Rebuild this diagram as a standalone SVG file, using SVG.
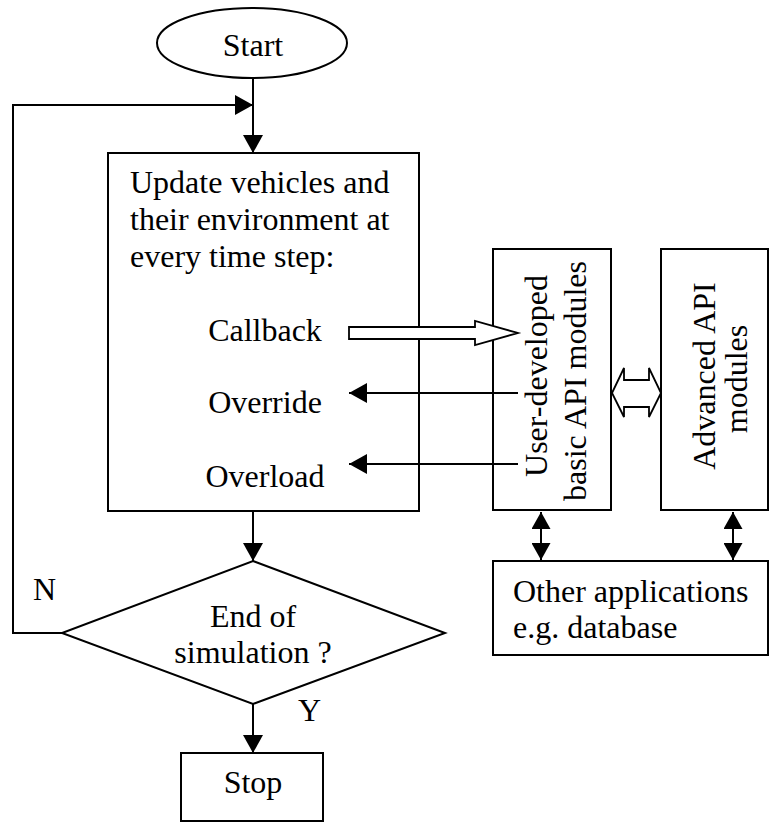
<svg xmlns="http://www.w3.org/2000/svg" width="770" height="823" viewBox="0 0 770 823">
<style>
.s{fill:#fff;stroke:#000;stroke-width:2}
.c{fill:none;stroke:#000;stroke-width:2}
.h{fill:#fff;stroke:#000;stroke-width:1.8}
text{font-family:"Liberation Serif","Times New Roman",serif;font-size:32px;fill:#000}
.m{text-anchor:middle}
</style>
<defs>
<marker id="ah" viewBox="0 0 18 20" refX="18" refY="10" markerWidth="18" markerHeight="20" markerUnits="userSpaceOnUse" orient="auto-start-reverse">
<path d="M0,0 L18,10 L0,20 z" fill="#000"/>
</marker>
<marker id="ahs" viewBox="0 0 17 19" refX="17" refY="9.5" markerWidth="17" markerHeight="19" markerUnits="userSpaceOnUse" orient="auto-start-reverse">
<path d="M0,0 L17,9.5 L0,19 z" fill="#000"/>
</marker>
</defs>
<g id="start">
<ellipse class="s" cx="252" cy="43" rx="95" ry="35"/>
<text class="m" x="253" y="56">Start</text>
</g>
<g id="update">
<rect class="s" x="108" y="153" width="311" height="358"/>
<text x="130" y="193">Update vehicles and</text>
<text x="130" y="230">their environment at</text>
<text x="130" y="267">every time step:</text>
<text class="m" x="265" y="341">Callback</text>
<text class="m" x="265" y="413">Override</text>
<text class="m" x="265" y="487">Overload</text>
</g>
<g id="decision">
<polygon class="s" points="253,561 445,633 253,704 62,633"/>
<text class="m" x="253" y="627">End of</text>
<text class="m" x="253" y="663">simulation ?</text>
</g>
<g id="stop">
<rect class="s" x="181" y="753" width="142" height="68"/>
<text class="m" x="253" y="793">Stop</text>
</g>
<g id="basic">
<rect class="s" x="493" y="249" width="118" height="261"/>
<text class="m" transform="translate(547,376) rotate(-90)">User-developed</text>
<text class="m" transform="translate(586,381) rotate(-90)">basic API modules</text>
</g>
<g id="advanced">
<rect class="s" x="661" y="249" width="107" height="261"/>
<text class="m" transform="translate(715,376) rotate(-90)">Advanced API</text>
<text class="m" transform="translate(747,379) rotate(-90)">modules</text>
</g>
<g id="other">
<rect class="s" x="493" y="561" width="275" height="94"/>
<text x="513" y="602">Other applications</text>
<text x="513" y="638">e.g. database</text>
</g>
<g id="connectors">
<line class="c" x1="253" y1="78" x2="253" y2="153" marker-end="url(#ah)"/>
<polyline class="c" points="62,633 13,633 13,105 253,105" marker-end="url(#ah)"/>
<line class="c" x1="253" y1="511" x2="253" y2="561" marker-end="url(#ah)"/>
<line class="c" x1="253" y1="704" x2="253" y2="753" marker-end="url(#ah)"/>
<polygon class="h" points="349,327 475,327 475,321 518,333 475,345 475,339 349,339"/>
<line class="c" x1="518" y1="393" x2="349" y2="393" marker-end="url(#ah)"/>
<line class="c" x1="518" y1="464" x2="349" y2="464" marker-end="url(#ah)"/>
<polygon class="h" points="612,393 624,368 624,380 649,380 649,368 661,393 649,417 649,407 624,407 624,417"/>
<line class="c" x1="541" y1="512" x2="541" y2="560" marker-start="url(#ahs)" marker-end="url(#ahs)"/>
<line class="c" x1="733" y1="512" x2="733" y2="560" marker-start="url(#ahs)" marker-end="url(#ahs)"/>
<text x="33" y="600">N</text>
<text x="298" y="721">Y</text>
</g>
</svg>
